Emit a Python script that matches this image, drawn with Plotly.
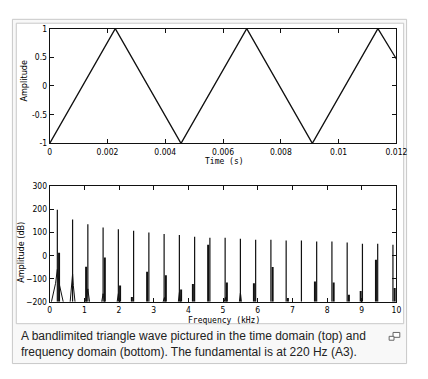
import plotly.graph_objects as go

# ---------------- data ----------------
# time-domain triangle wave: vertices
time_s = [0.0, 0.00227, 0.004545, 0.00682, 0.00909, 0.01136, 0.012]
amplitude = [-1.0, 1.0, -1.0, 1.0, -1.0, 1.0, 0.47]

# frequency domain: odd harmonics of 220 Hz
harmonic_khz = [0.22, 0.66, 1.10, 1.54, 1.98, 2.42, 2.86, 3.30, 3.74, 4.18, 4.62, 5.06,
                5.50, 5.94, 6.38, 6.82, 7.26, 7.70, 8.14, 8.58, 9.02, 9.46, 9.90]
peak_db = [198, 156, 135, 121, 114, 107, 99, 93, 89, 81, 77, 77,
           72, 68, 68, 65, 65, 61, 61, 56, 51, 51, 47]
# secondary (leakage) bar next to each spike, and its side (-1 left, +1 right)
side_db = [12, None, -49, -8, -129, -179, -70, -85, -147, -123, 47, -116,
           None, -120, -50, -183, None, -112, -116, -169, -153, -18, -140]
side_dir = [1, 1, -1, 1, 1, -1, -1, 1, 1, -1, -1, 1,
            1, -1, 1, 1, 1, -1, 1, 1, -1, -1, 1]
# hollow hump around the spike base (dB) and its half width (kHz)
hump_db = [-60, -80, -144, -165, -165, None, None, -183, -160, None, None, -183,
           -162, None, None, None, None, None, None, None, None, None, None]
hump_half_khz = [0.17, 0.07, 0.05, 0.04, 0.035, 0, 0, 0.03, 0.03, 0, 0, 0.03,
                 0.03, 0, 0, 0, 0, 0, 0, 0, 0, 0, 0]

FLOOR_DB = -200

caption = ("A bandlimited triangle wave pictured in the time domain (top) and<br>"
           "frequency domain (bottom). The fundamental is at 220 Hz (A3).")

# ---------------- figure ----------------
# the page body has an 8 px margin, so the figure is placed 8 px in from the corner
OFF = 8
W, H = 428 - 2 * OFF, 379 - 2 * OFF
def fx(p):
    return (p - OFF) / W
def fy(p):
    return 1 - (p - OFF) / H

# build spectrum segments from the arrays
spike_x, spike_y = [], []
side_x, side_y = [], []
hump_x, hump_y = [], []
for f, pk, sd, sdir, hd, hw in zip(harmonic_khz, peak_db, side_db, side_dir, hump_db, hump_half_khz):
    spike_x += [f, f, None]
    spike_y += [FLOOR_DB, pk, None]
    if sd is not None:
        xs = f + sdir * 0.05
        side_x += [xs, xs, None]
        side_y += [FLOOR_DB, sd, None]
    if hd is not None:
        hump_x += [f - hw, f - hw * 0.3, f, f + hw * 0.3, f + hw, None]
        hump_y += [FLOOR_DB, (hd + FLOOR_DB) / 2 + 10, hd, (hd + FLOOR_DB) / 2 + 10, FLOOR_DB, None]

fig = go.Figure()
fig.add_trace(go.Scatter(x=time_s, y=amplitude, mode="lines",
                         line=dict(color="#111111", width=1.3),
                         xaxis="x", yaxis="y", showlegend=False, hoverinfo="skip"))
fig.add_trace(go.Scatter(x=hump_x, y=hump_y, mode="lines",
                         line=dict(color="#111111", width=1),
                         xaxis="x2", yaxis="y2", showlegend=False, hoverinfo="skip"))
fig.add_trace(go.Scatter(x=side_x, y=side_y, mode="lines",
                         line=dict(color="#111111", width=2),
                         xaxis="x2", yaxis="y2", showlegend=False, hoverinfo="skip"))
fig.add_trace(go.Scatter(x=spike_x, y=spike_y, mode="lines",
                         line=dict(color="#111111", width=1.2),
                         xaxis="x2", yaxis="y2", showlegend=False, hoverinfo="skip"))

tick_font = dict(family="Liberation Sans Narrow, DejaVu Sans Condensed, sans-serif",
                 size=8.5, color="#000000")
axis_common = dict(showline=True, linecolor="#111111", linewidth=1, mirror="ticks",
                   ticks="inside", ticklen=4, tickcolor="#111111", tickwidth=1,
                   showgrid=False, zeroline=False, tickfont=tick_font, fixedrange=True)

x_dom = [fx(49), fx(407)]
fig.update_layout(
    width=W, height=H,
    margin=dict(l=0, r=0, t=0, b=0),
    paper_bgcolor="white", plot_bgcolor="white",
    xaxis=dict(domain=x_dom, range=[0, 0.012], anchor="y",
               tickvals=[0, 0.002, 0.004, 0.006, 0.008, 0.01, 0.012],
               ticktext=["0", "0.002", "0.004", "0.006", "0.008", "0.01", "0.012"],
               **axis_common),
    yaxis=dict(domain=[fy(142), fy(24)], range=[-1, 1], anchor="x",
               tickvals=[-1, -0.5, 0, 0.5, 1],
               ticktext=["-1", "-0.5", "0", "0.5", "1"], **axis_common),
    xaxis2=dict(domain=x_dom, range=[0, 10], anchor="y2",
                tickvals=list(range(0, 11)), **axis_common),
    yaxis2=dict(domain=[fy(305), fy(186)], range=[-200, 300], anchor="x2",
                tickvals=[-200, -100, 0, 100, 200, 300], **axis_common),
)

gray = "#c8c8c8"
shapes = [
    # outer thumbnail box
    dict(type="rect", xref="paper", yref="paper", x0=fx(10.5), x1=fx(417.5), y0=fy(368.5), y1=fy(14.5),
         line=dict(color=gray, width=1), fillcolor="#f8f8f8", layer="below"),
    # image border
    dict(type="rect", xref="paper", yref="paper", x0=fx(14.5), x1=fx(414.5), y0=fy(327.5), y1=fy(18.5),
         line=dict(color=gray, width=1), fillcolor="white", layer="below"),
    # magnify icon
    dict(type="rect", xref="paper", yref="paper", x0=fx(403.5), x1=fx(410.5), y0=fy(341.5), y1=fy(336.5),
         line=dict(color="#666666", width=1), fillcolor="white"),
    dict(type="rect", xref="paper", yref="paper", x0=fx(399.5), x1=fx(404.5), y0=fy(344.5), y1=fy(340.5),
         line=dict(color="#666666", width=1), fillcolor="white"),
]
fig.update_layout(shapes=shapes)

htitle_font = dict(family="DejaVu Sans Mono", size=8, color="#000000")
vtitle_font = dict(family="Liberation Sans Narrow, DejaVu Sans Condensed, sans-serif",
                   size=9, color="#000000")
annotations = [
    dict(text="Time (s)", x=fx(229), y=fy(161), xref="paper", yref="paper",
         showarrow=False, font=htitle_font, xanchor="center", yanchor="middle"),
    dict(text="Amplitude", x=fx(23), y=fy(78), xref="paper", yref="paper", textangle=-90,
         showarrow=False, font=vtitle_font, xanchor="center", yanchor="middle"),
    dict(text="Frequency (kHz)", x=fx(229), y=fy(324), xref="paper", yref="paper",
         showarrow=False, font=htitle_font, xanchor="center", yanchor="middle"),
    dict(text="Amplitude (dB)", x=fx(20), y=fy(254), xref="paper", yref="paper", textangle=-90,
         showarrow=False, font=vtitle_font, xanchor="center", yanchor="middle"),
    dict(text=caption, x=fx(17), y=fy(348.5), xref="paper", yref="paper",
         showarrow=False, font=dict(family="Liberation Sans", size=12, color="#222222"),
         xanchor="left", yanchor="middle", align="left"),
]
fig.update_layout(annotations=annotations)

fig.write_html("out.html")
